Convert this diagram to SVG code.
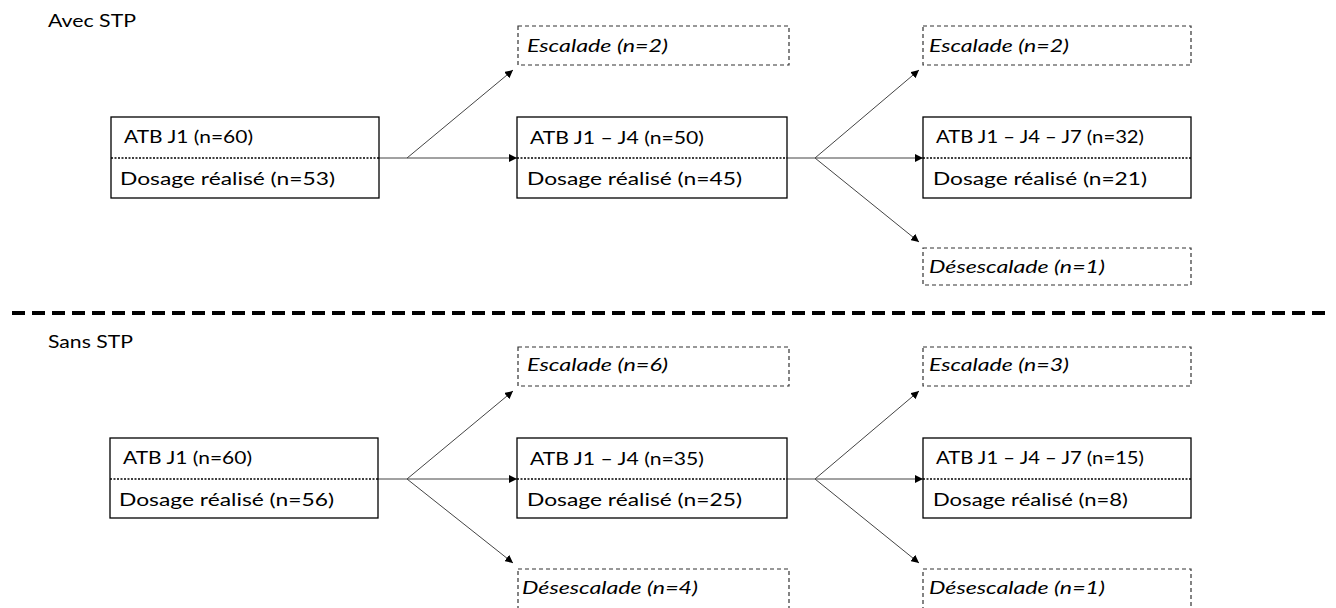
<svg xmlns="http://www.w3.org/2000/svg" width="1336" height="608" viewBox="0 0 1336 608">
<style>
text{font-family:Lato,"Open Sans","Liberation Sans",sans-serif;font-size:18px;fill:#000}
.it{font-style:italic}
.box{fill:#fff;stroke:#000;stroke-width:1.3}
.dot{stroke:#000;stroke-width:1.5;stroke-dasharray:2 1.5}
.dbox{fill:#fff;stroke:#333;stroke-width:1.2;stroke-dasharray:4 3}
.con{fill:none;stroke:#444;stroke-width:1}
.arr{fill:none;stroke:#444;stroke-width:1;marker-end:url(#ah)}
</style>
<defs>
<marker id="ah" viewBox="0 0 10 10" refX="10" refY="5" markerWidth="8" markerHeight="8" markerUnits="userSpaceOnUse" orient="auto">
<path d="M0,0 L10,5 L0,10 z" fill="#000"/>
</marker>
</defs>
<rect width="1336" height="608" fill="#fff"/>

<text x="48" y="27" textLength="88" lengthAdjust="spacingAndGlyphs">Avec STP</text>
<text x="48" y="348" textLength="85" lengthAdjust="spacingAndGlyphs">Sans STP</text>
<line x1="12" y1="313" x2="1326" y2="313" stroke="#000" stroke-width="4" stroke-dasharray="13 7"/>

<g id="connectors">
<polyline class="con" points="379,158 407,158"/>
<line class="arr" x1="407" y1="158" x2="517" y2="158"/>
<line class="arr" x1="407" y1="158" x2="513" y2="70"/>
<polyline class="con" points="787,158 815,158"/>
<line class="arr" x1="815" y1="158" x2="923" y2="158"/>
<line class="arr" x1="815" y1="158" x2="919" y2="70"/>
<line class="arr" x1="815" y1="158" x2="919" y2="242"/>

<polyline class="con" points="378,479 407,479"/>
<line class="arr" x1="407" y1="479" x2="517" y2="479"/>
<line class="arr" x1="407" y1="479" x2="513" y2="391"/>
<line class="arr" x1="407" y1="479" x2="513" y2="563"/>
<polyline class="con" points="787,479 815,479"/>
<line class="arr" x1="815" y1="479" x2="923" y2="479"/>
<line class="arr" x1="815" y1="479" x2="919" y2="391"/>
<line class="arr" x1="815" y1="479" x2="919" y2="563"/>
</g>

<g id="a_j1">
<rect class="box" x="111" y="117" width="268" height="81"/>
<line class="dot" x1="111" y1="158" x2="379" y2="158"/>
<text x="124" y="143" textLength="129" lengthAdjust="spacingAndGlyphs">ATB J1 (n=60)</text>
<text x="120" y="185" textLength="215" lengthAdjust="spacingAndGlyphs">Dosage réalisé (n=53)</text>
</g>
<g id="a_esc1">
<rect class="dbox" x="518" y="26" width="271" height="39"/>
<text class="it" x="527" y="52" textLength="141" lengthAdjust="spacingAndGlyphs">Escalade (n=2)</text>
</g>
<g id="a_j4">
<rect class="box" x="517" y="117" width="270" height="81"/>
<line class="dot" x1="517" y1="158" x2="787" y2="158"/>
<text x="530" y="144" textLength="174" lengthAdjust="spacingAndGlyphs">ATB J1 – J4 (n=50)</text>
<text x="527" y="185" textLength="215" lengthAdjust="spacingAndGlyphs">Dosage réalisé (n=45)</text>
</g>
<g id="a_esc2">
<rect class="dbox" x="923" y="26" width="268" height="39"/>
<text class="it" x="929" y="52" textLength="140" lengthAdjust="spacingAndGlyphs">Escalade (n=2)</text>
</g>
<g id="a_j7">
<rect class="box" x="923" y="117" width="268" height="81"/>
<line class="dot" x1="923" y1="158" x2="1191" y2="158"/>
<text x="936" y="143" textLength="208" lengthAdjust="spacingAndGlyphs">ATB J1 – J4 – J7 (n=32)</text>
<text x="933" y="185" textLength="214" lengthAdjust="spacingAndGlyphs">Dosage réalisé (n=21)</text>
</g>
<g id="a_desc2">
<rect class="dbox" x="923" y="248" width="268" height="37"/>
<text class="it" x="929" y="273" textLength="176" lengthAdjust="spacingAndGlyphs">Désescalade (n=1)</text>
</g>

<g id="s_j1">
<rect class="box" x="110" y="438" width="268" height="80"/>
<line class="dot" x1="110" y1="479" x2="378" y2="479"/>
<text x="123" y="464" textLength="129" lengthAdjust="spacingAndGlyphs">ATB J1 (n=60)</text>
<text x="119" y="506" textLength="215" lengthAdjust="spacingAndGlyphs">Dosage réalisé (n=56)</text>
</g>
<g id="s_esc1">
<rect class="dbox" x="518" y="347" width="271" height="39"/>
<text class="it" x="527" y="371" textLength="141" lengthAdjust="spacingAndGlyphs">Escalade (n=6)</text>
</g>
<g id="s_j4">
<rect class="box" x="517" y="438" width="270" height="80"/>
<line class="dot" x1="517" y1="479" x2="787" y2="479"/>
<text x="530" y="465" textLength="174" lengthAdjust="spacingAndGlyphs">ATB J1 – J4 (n=35)</text>
<text x="527" y="506" textLength="215" lengthAdjust="spacingAndGlyphs">Dosage réalisé (n=25)</text>
</g>
<g id="s_desc1">
<rect class="dbox" x="518" y="569" width="271" height="40"/>
<text class="it" x="522" y="594" textLength="176" lengthAdjust="spacingAndGlyphs">Désescalade (n=4)</text>
</g>
<g id="s_esc2">
<rect class="dbox" x="923" y="347" width="268" height="39"/>
<text class="it" x="929" y="371" textLength="140" lengthAdjust="spacingAndGlyphs">Escalade (n=3)</text>
</g>
<g id="s_j7">
<rect class="box" x="923" y="438" width="268" height="80"/>
<line class="dot" x1="923" y1="479" x2="1191" y2="479"/>
<text x="936" y="464" textLength="208" lengthAdjust="spacingAndGlyphs">ATB J1 – J4 – J7 (n=15)</text>
<text x="933" y="506" textLength="195" lengthAdjust="spacingAndGlyphs">Dosage réalisé (n=8)</text>
</g>
<g id="s_desc2">
<rect class="dbox" x="923" y="569" width="268" height="40"/>
<text class="it" x="929" y="594" textLength="176" lengthAdjust="spacingAndGlyphs">Désescalade (n=1)</text>
</g>
</svg>
